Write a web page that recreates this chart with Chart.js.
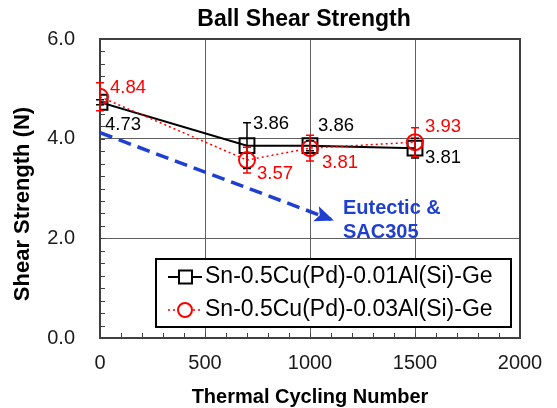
<!DOCTYPE html>
<html>
<head>
<meta charset="utf-8">
<script src="https://cdn.jsdelivr.net/npm/chart.js@4"></script>
<style>
    html, body { margin: 0; padding: 0; background: #fff; }
    #wrap { width: 557px; height: 408px; }
</style>
</head>
<body>
<div id="wrap"><canvas id="chart" width="557" height="408"></canvas></div>
<script>
// values
const cycles = [0, 700, 1000, 1500];
const al001 = [4.73, 3.86, 3.86, 3.81];
const al001Err = [0.05, 0.46, 0.1, 0.2];
const al003 = [4.84, 3.57, 3.81, 3.93];
const al003Err = [0.28, 0.26, 0.26, 0.29];
const eutecticX = [0, 1100];
const eutecticY = [4.12, 2.38];
const xTicks = [0, 500, 1000, 1500, 2000];
const yTicks = [0, 2, 4, 6];
const seriesNames = ['Sn-0.5Cu(Pd)-0.01Al(Si)-Ge', 'Sn-0.5Cu(Pd)-0.03Al(Si)-Ge'];
const eutecticNote = ['Eutectic &', 'SAC305'];
const chartTitle = 'Ball Shear Strength';
const xTitle = 'Thermal Cycling Number';
const yTitle = 'Shear Strength (N)';

const FONT = '"Liberation Sans", Arial, sans-serif';
const BLACK = '#000000';
const RED = '#ff0000';
const BLUE = '#1f3fd1';

document.addEventListener('DOMContentLoaded', () => {
    const toPoints = (xs, ys) => xs.map((x, i) => ({ x, y: ys[i] }));

    // label offsets (px) from each point to the left/middle of its value text
    const labelOffsets = {
        black: [[5, 23], [6, -22], [8, -20], [10, 10]],
        red: [[10, -9], [10, 14], [12, 15], [10, -15]]
    };

    // inward minor ticks + plot frame
    const framePlugin = {
        id: 'frame',
        beforeDatasetsDraw(chart) {
            const { ctx, chartArea: a, scales: { x, y } } = chart;
            ctx.save();
            ctx.strokeStyle = '#404040';
            ctx.lineWidth = 1;
            ctx.beginPath();
            for (let v = 0; v <= 2000; v += 100) {
                const px = Math.round(x.getPixelForValue(v)) + 0.5;
                ctx.moveTo(px, a.bottom);
                ctx.lineTo(px, a.bottom - 5);
            }
            for (let v = 0; v <= 6; v += 0.25) {
                const py = Math.round(y.getPixelForValue(v)) + 0.5;
                ctx.moveTo(a.left, py);
                ctx.lineTo(a.left + 5, py);
            }
            ctx.stroke();
            ctx.lineWidth = 2;
            ctx.strokeRect(a.left, a.top, a.right - a.left, a.bottom - a.top);
            ctx.restore();
        }
    };

    // error bars, arrow head, legend box, all texts
    const overlayPlugin = {
        id: 'overlay',
        afterDatasetsDraw(chart) {
            const { ctx, scales: { x, y } } = chart;
            ctx.save();

            // error bars
            const bars = [[al001, al001Err, BLACK], [al003, al003Err, RED]];
            bars.forEach(([vals, errs, color]) => {
                ctx.strokeStyle = color;
                ctx.lineWidth = 1.5;
                ctx.beginPath();
                vals.forEach((v, i) => {
                    const px = x.getPixelForValue(cycles[i]);
                    const top = y.getPixelForValue(v + errs[i]);
                    const bot = y.getPixelForValue(v - errs[i]);
                    ctx.moveTo(px, top); ctx.lineTo(px, bot);
                    ctx.moveTo(px - 4, top); ctx.lineTo(px + 4, top);
                    ctx.moveTo(px - 4, bot); ctx.lineTo(px + 4, bot);
                });
                ctx.stroke();
            });

            // arrow head on the eutectic trend
            const pts = chart.getDatasetMeta(2).data;
            const p0 = pts[pts.length - 2], p1 = pts[pts.length - 1];
            const ang = Math.atan2(p1.y - p0.y, p1.x - p0.x);
            ctx.fillStyle = BLUE;
            ctx.translate(p1.x, p1.y);
            ctx.rotate(ang);
            ctx.beginPath();
            ctx.moveTo(3, 0);
            ctx.lineTo(-16, -8);
            ctx.lineTo(-12, 0);
            ctx.lineTo(-16, 8);
            ctx.closePath();
            ctx.fill();
            ctx.setTransform(1, 0, 0, 1, 0, 0);

            // legend box
            ctx.fillStyle = '#fff';
            ctx.fillRect(156, 259, 355, 68);
            ctx.strokeStyle = '#000';
            ctx.lineWidth = 2;
            ctx.strokeRect(156, 259, 355, 68);
            const rows = [277, 310];
            // black square row
            ctx.lineWidth = 2;
            ctx.beginPath();
            ctx.moveTo(168, rows[0]); ctx.lineTo(202, rows[0]);
            ctx.stroke();
            ctx.fillStyle = '#fff';
            ctx.fillRect(179, rows[0] - 6.5, 13, 13);
            ctx.strokeRect(179, rows[0] - 6.5, 13, 13);
            // red circle row
            ctx.strokeStyle = RED;
            ctx.lineWidth = 1.5;
            ctx.setLineDash([2, 3]);
            ctx.beginPath();
            ctx.moveTo(168, rows[1]); ctx.lineTo(202, rows[1]);
            ctx.stroke();
            ctx.setLineDash([]);
            ctx.lineWidth = 2;
            ctx.beginPath();
            ctx.arc(185, rows[1], 7, 0, Math.PI * 2);
            ctx.fill();
            ctx.stroke();
            ctx.fillStyle = '#000';
            ctx.font = `23px ${FONT}`;
            ctx.textBaseline = 'middle';
            ctx.textAlign = 'left';
            ctx.fillText(seriesNames[0], 205, rows[0]);
            ctx.fillText(seriesNames[1], 205, rows[1]);

            // value labels
            ctx.font = `18.5px ${FONT}`;
            [[al001, BLACK, labelOffsets.black], [al003, RED, labelOffsets.red]].forEach(([vals, color, offs]) => {
                ctx.fillStyle = color;
                vals.forEach((v, i) => {
                    const px = x.getPixelForValue(cycles[i]);
                    const py = y.getPixelForValue(v);
                    ctx.fillText(v.toFixed(2), px + offs[i][0], py + offs[i][1]);
                });
            });

            // eutectic note
            ctx.fillStyle = BLUE;
            ctx.font = `bold 20px ${FONT}`;
            const nx = x.getPixelForValue(1157), ny = y.getPixelForValue(2.6);
            ctx.fillText(eutecticNote[0], nx, ny);
            ctx.fillText(eutecticNote[1], nx, ny + 24);

            // titles
            ctx.fillStyle = '#000';
            ctx.textAlign = 'center';
            ctx.font = `bold 23px ${FONT}`;
            ctx.fillText(chartTitle, 304, 20);
            ctx.font = `bold 20px ${FONT}`;
            ctx.fillText(xTitle, (x.left + x.right) / 2, 397);
            ctx.translate(23, 204);
            ctx.rotate(-Math.PI / 2);
            ctx.font = `bold 22px ${FONT}`;
            ctx.fillText(yTitle, 0, 0);
            ctx.restore();
        }
    };

    new Chart(document.getElementById('chart'), {
        type: 'scatter',
        data: {
            datasets: [
                {
                    label: seriesNames[1],
                    data: toPoints(cycles, al003),
                    showLine: true,
                    borderColor: RED,
                    borderWidth: 1.5,
                    borderDash: [2, 3],
                    pointStyle: 'circle',
                    pointRadius: 8,
                    pointBorderWidth: 2,
                    pointBorderColor: RED,
                    pointBackgroundColor: 'rgba(255,255,255,0)',
                    order: 0
                },
                {
                    label: seriesNames[0],
                    data: toPoints(cycles, al001),
                    showLine: true,
                    borderColor: BLACK,
                    borderWidth: 2,
                    pointStyle: 'rect',
                    pointRadius: 10.5,
                    pointBorderWidth: 2,
                    pointBorderColor: BLACK,
                    pointBackgroundColor: 'rgba(255,255,255,0)',
                    order: 1
                },
                {
                    label: 'Eutectic & SAC305',
                    data: toPoints(eutecticX, eutecticY),
                    showLine: true,
                    borderColor: BLUE,
                    borderWidth: 3.5,
                    borderDash: [13, 7],
                    pointRadius: 0,
                    order: 2
                }
            ]
        },
        options: {
            responsive: false,
            animation: false,
            devicePixelRatio: 1,
            layout: { padding: { left: 0, right: 37, top: 39, bottom: 0 } },
            plugins: { legend: { display: false }, tooltip: { enabled: false } },
            scales: {
                x: {
                    type: 'linear',
                    min: 0,
                    max: 2000,
                    afterBuildTicks: s => { s.ticks = xTicks.map(v => ({ value: v })); },
                    afterFit: s => { s.height = 70; },
                    grid: { color: '#606060', lineWidth: 1, drawTicks: false },
                    border: { display: false },
                    ticks: {
                        color: '#1a1a1a',
                        font: { family: FONT, size: 20 },
                        padding: 13,
                        maxRotation: 0,
                        callback: v => String(v)
                    }
                },
                y: {
                    type: 'linear',
                    min: 0,
                    max: 6,
                    afterBuildTicks: s => { s.ticks = yTicks.map(v => ({ value: v })); },
                    afterFit: s => { s.width = 100; },
                    grid: { color: '#606060', lineWidth: 1, drawTicks: false },
                    border: { display: false },
                    ticks: {
                        color: '#1a1a1a',
                        font: { family: FONT, size: 20 },
                        padding: 25,
                        callback: v => v.toFixed(1)
                    }
                }
            }
        },
        plugins: [framePlugin, overlayPlugin]
    });
});
</script>
</body>
</html>
